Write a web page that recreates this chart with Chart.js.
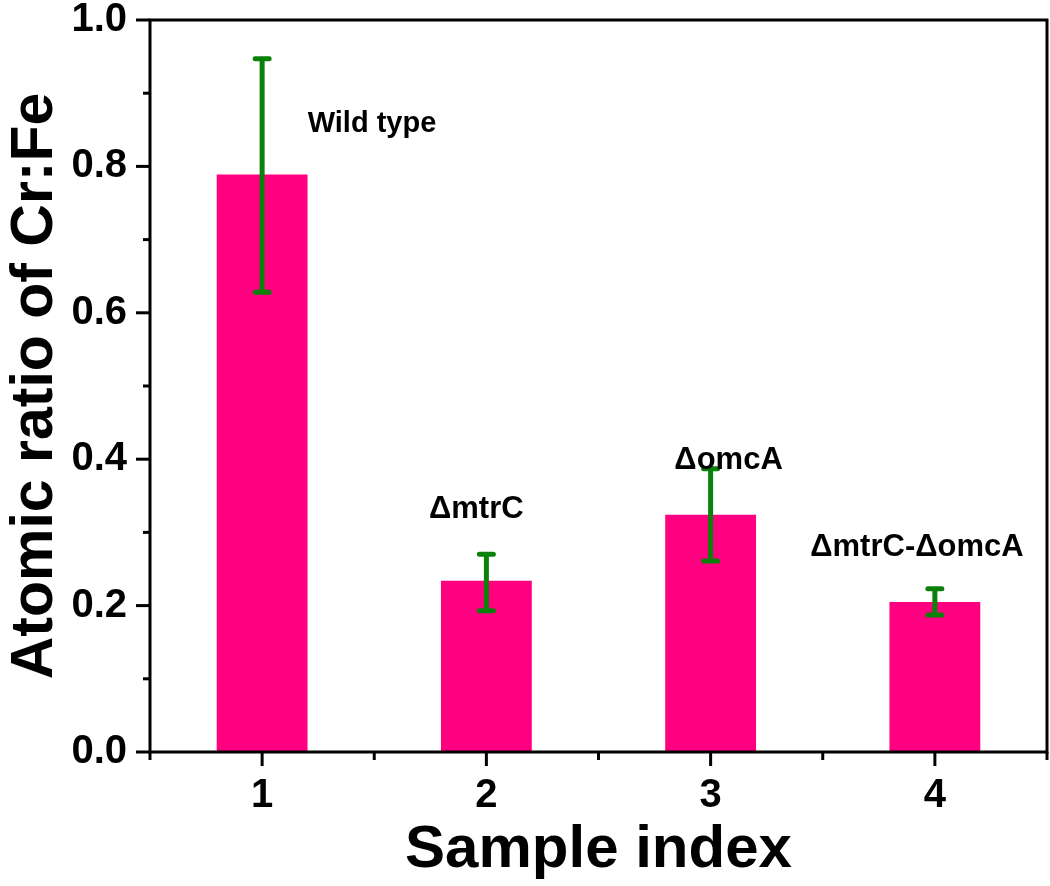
<!DOCTYPE html>
<html>
<head>
<meta charset="utf-8">
<title>Atomic ratio of Cr:Fe</title>
<script src="https://cdn.jsdelivr.net/npm/chart.js@4.4.1/dist/chart.umd.min.js"></script>
<style>
  html, body { margin: 0; padding: 0; background: #fff; }
  #wrap { width: 1050px; height: 886px; }
</style>
</head>
<body>
<div id="wrap"><canvas id="ratioChart" width="1050" height="886"></canvas></div>
<script>
// podaci sa grafika
let sampleIndex = [1, 2, 3, 4];
let ratio = [0.789, 0.234, 0.324, 0.205];
let errHigh = [0.947, 0.270, 0.387, 0.223];
let errLow = [0.628, 0.193, 0.261, 0.187];

// natpisi iznad stubica (polozaj u jedinicama osa)
let labelText = ["Wild type", "\u0394mtrC", "\u0394omcA", "\u0394mtrC-\u0394omcA"];
let labelX = [1.49, 1.955, 3.08, 3.92];
let labelY = [0.858, 0.332, 0.398, 0.279];

let yTicks = [0.0, 0.2, 0.4, 0.6, 0.8, 1.0];

const FONT = "'Liberation Sans', Arial, Helvetica, sans-serif";
const GREEN = "#0b800b";

// okvir i crtice na osama
let frameTicks = {
    id: "frameTicks",
    afterDraw(chart) {
        let ctx = chart.ctx;
        let a = chart.chartArea;
        let xs = chart.scales.x;
        let ys = chart.scales.y;
        ctx.save();
        ctx.strokeStyle = "#000";
        ctx.lineWidth = 3;
        ctx.lineCap = "butt";
        ctx.strokeRect(a.left, a.top, a.right - a.left, a.bottom - a.top);

        xs.ticks.forEach(function (t) {
            let px = xs.getPixelForValue(t.value);
            let len = Number.isInteger(t.value) ? 14 : 8;
            ctx.beginPath();
            ctx.moveTo(px, a.bottom);
            ctx.lineTo(px, a.bottom + len);
            ctx.stroke();
        });
        ys.ticks.forEach(function (t) {
            let py = ys.getPixelForValue(t.value);
            let major = Math.round(t.value * 10) % 2 === 0;
            let len = major ? 14 : 7;
            ctx.beginPath();
            ctx.moveTo(a.left, py);
            ctx.lineTo(a.left - len, py);
            ctx.stroke();
        });
        ctx.restore();
    }
};

// error barovi
let errorBars = {
    id: "errorBars",
    afterDatasetsDraw(chart) {
        let ctx = chart.ctx;
        let xs = chart.scales.x;
        let ys = chart.scales.y;
        ctx.save();
        ctx.strokeStyle = GREEN;
        ctx.lineWidth = 5;
        for (let i = 0; i < sampleIndex.length; i++) {
            let px = xs.getPixelForValue(sampleIndex[i]);
            let hi = ys.getPixelForValue(errHigh[i]);
            let lo = ys.getPixelForValue(errLow[i]);
            ctx.lineCap = "butt";
            ctx.beginPath();
            ctx.moveTo(px, hi);
            ctx.lineTo(px, lo);
            ctx.stroke();
            ctx.lineCap = "round";
            ctx.beginPath();
            ctx.moveTo(px - 7, hi);
            ctx.lineTo(px + 7, hi);
            ctx.moveTo(px - 7, lo);
            ctx.lineTo(px + 7, lo);
            ctx.stroke();
        }
        ctx.restore();
    }
};

// natpisi
let barLabels = {
    id: "barLabels",
    afterDraw(chart) {
        let ctx = chart.ctx;
        let xs = chart.scales.x;
        let ys = chart.scales.y;
        ctx.save();
        ctx.fillStyle = "#000";
        ctx.textAlign = "center";
        ctx.textBaseline = "middle";
        for (let i = 0; i < labelText.length; i++) {
            ctx.font = "bold " + (i === 0 ? 29 : 31) + "px " + FONT;
            ctx.fillText(labelText[i], xs.getPixelForValue(labelX[i]), ys.getPixelForValue(labelY[i]));
        }
        ctx.restore();
    }
};

let ctx = document.getElementById("ratioChart").getContext("2d");

let ratioChart = new Chart(ctx, {
    type: "bar",
    data: {
        datasets: [{
            data: sampleIndex.map(function (x, i) { return { x: x, y: ratio[i] }; }),
            backgroundColor: "#ff0080",
            borderWidth: 0,
            barPercentage: 0.81,
            categoryPercentage: 1.0
        }]
    },
    options: {
        responsive: false,
        animation: false,
        devicePixelRatio: 1,
        layout: { padding: { top: 20, right: 3, left: 0, bottom: 0 } },
        plugins: {
            legend: { display: false },
            tooltip: { enabled: false }
        },
        scales: {
            x: {
                type: "linear",
                min: 0.5,
                max: 4.5,
                offset: false,
                border: { display: false },
                grid: { display: true, drawOnChartArea: false, offset: false, tickLength: 14, tickColor: "rgba(0,0,0,0)" },
                ticks: {
                    stepSize: 0.5,
                    autoSkip: false,
                    maxRotation: 0,
                    padding: 6,
                    color: "#000",
                    font: { family: FONT, size: 40, weight: "bold" },
                    callback: function (v) { return Number.isInteger(v) ? String(v) : ""; }
                },
                title: {
                    display: true,
                    text: "Sample index",
                    color: "#000",
                    font: { family: FONT, size: 60, weight: "bold" },
                    padding: { top: 0, bottom: 0 }
                },
                afterFit: function (scale) {
                    scale.height = 134;
                    scale.paddingLeft = 0;
                    scale.paddingRight = 0;
                }
            },
            y: {
                min: 0,
                max: 1,
                border: { display: false },
                grid: { display: true, drawOnChartArea: false, tickLength: 14, tickColor: "rgba(0,0,0,0)" },
                ticks: {
                    stepSize: 0.1,
                    autoSkip: false,
                    padding: 9,
                    color: "#000",
                    font: { family: FONT, size: 40, weight: "bold" },
                    callback: function (v) {
                        let lbl = yTicks.find(function (t) { return Math.abs(t - v) < 1e-6; });
                        return lbl === undefined ? "" : lbl.toFixed(1);
                    }
                },
                title: {
                    display: true,
                    text: "Atomic ratio of Cr:Fe",
                    color: "#000",
                    font: { family: FONT, size: 59, weight: "bold" },
                    padding: { top: 0, bottom: 0 }
                },
                afterFit: function (scale) {
                    scale.width = 150;
                    scale.paddingTop = 0;
                    scale.paddingBottom = 0;
                }
            }
        }
    },
    plugins: [errorBars, barLabels, frameTicks]
});
</script>
</body>
</html>
